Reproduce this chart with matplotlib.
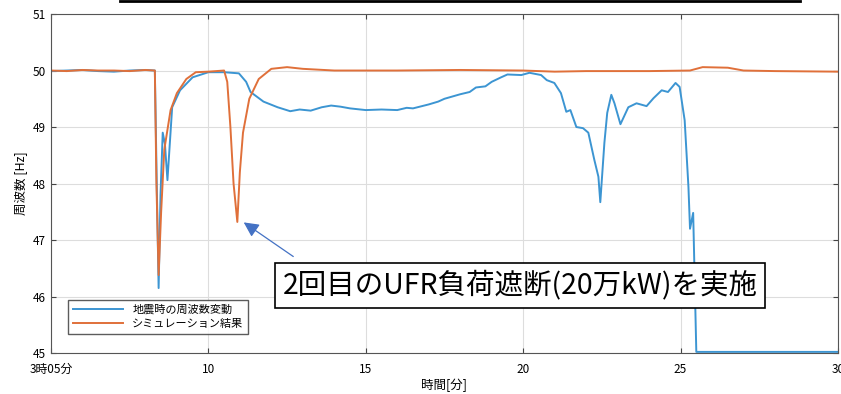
import matplotlib.pyplot as plt
from matplotlib.lines import Line2D

plt.rcParams['font.family'] = ['Noto Sans CJK JP', 'DejaVu Sans']

# measured frequency during the earthquake (minutes, Hz)
quake_t = [5.0, 5.5, 6.0, 6.5, 7.0, 7.5, 8.0, 8.3, 8.36, 8.42, 8.48, 8.55, 8.62,
           8.7, 8.85, 9.1, 9.5, 10.0, 10.5, 10.97, 11.2, 11.34, 11.75, 12.2, 12.6,
           12.9, 13.25, 13.6, 13.9, 14.2, 14.5, 15.0, 15.5, 16.0, 16.3, 16.5, 17.0,
           17.3, 17.5, 18.0, 18.3, 18.5, 18.8, 19.0, 19.3, 19.5, 19.94, 20.2, 20.57,
           20.75, 20.99, 21.2, 21.37, 21.5, 21.69, 21.9, 22.07, 22.26, 22.39, 22.45,
           22.58, 22.67, 22.8, 22.9, 23.09, 23.34, 23.6, 23.92, 24.14, 24.4, 24.6,
           24.84, 24.97, 25.13, 25.25, 25.3, 25.4, 25.5, 25.55, 26.0, 27.0, 28.0,
           29.0, 30.0]
quake_f = [49.99, 50.0, 50.01, 49.99, 49.98, 50.0, 50.01, 50.0, 48.0, 46.15, 47.8, 48.9, 48.7,
           48.06, 49.35, 49.65, 49.88, 49.97, 49.97, 49.95, 49.8, 49.62, 49.45, 49.35, 49.28,
           49.31, 49.29, 49.35, 49.38, 49.36, 49.33, 49.3, 49.31, 49.3, 49.34, 49.33, 49.4,
           49.45, 49.5, 49.58, 49.62, 49.7, 49.72, 49.8, 49.88, 49.93, 49.92, 49.96, 49.92,
           49.83, 49.78, 49.6, 49.27, 49.3, 49.0, 48.98, 48.9, 48.42, 48.12, 47.67,
           48.72, 49.25, 49.57, 49.42, 49.05, 49.35, 49.42, 49.37, 49.51, 49.65, 49.62,
           49.78, 49.71, 49.12, 47.94, 47.2, 47.48, 45.02, 45.02, 45.02, 45.02, 45.02,
           45.02, 45.02]

# simulation result
sim_t = [5.0, 5.5, 6.0, 6.5, 7.0, 7.5, 8.0, 8.3, 8.35, 8.42, 8.5, 8.6, 8.8, 9.0,
         9.3, 9.6, 10.0, 10.5, 10.6, 10.7, 10.8, 10.92, 11.0, 11.1, 11.3, 11.6,
         12.0, 12.5, 13.0, 14.0, 16.0, 18.0, 20.0, 21.0, 22.0, 24.0, 25.3,
         25.7, 26.5, 27.0, 28.0, 30.0]
sim_f = [50.0, 49.99, 50.01, 50.0, 50.0, 49.99, 50.01, 50.0, 48.0, 46.38, 47.5, 48.6, 49.3, 49.6,
         49.85, 49.97, 49.98, 50.0, 49.8, 49.0, 48.0, 47.32, 48.2, 48.9, 49.5, 49.85,
         50.03, 50.06, 50.03, 50.0, 50.0, 50.01, 50.0, 49.98, 49.99, 49.99, 50.0,
         50.06, 50.05, 50.0, 49.99, 49.98]

xticks = [5, 10, 15, 20, 25, 30]
xticklabels = ['3時05分', '10', '15', '20', '25', '30']
yticks = [45, 46, 47, 48, 49, 50, 51]

fig = plt.figure(figsize=(8.41, 3.94), dpi=100)
ax = fig.add_axes([0.0606, 0.104, 0.9358, 0.8604])

ax.plot(quake_t, quake_f, color='#3c95d2', lw=1.4, label='地震時の周波数変動')
ax.plot(sim_t, sim_f, color='#e0703a', lw=1.4, label='シミュレーション結果')

ax.set_xlim(5, 30)
ax.set_ylim(45, 51)
ax.set_xticks(xticks)
ax.set_xticklabels(xticklabels)
ax.set_yticks(yticks)
ax.tick_params(direction='in', top=True, right=True, labelsize=8.5, color='#444444')
ax.tick_params(axis='x', pad=7)
ax.grid(color='#dddddd', lw=0.8)
for s in ax.spines.values():
    s.set_color('#555555')
ax.set_xlabel('時間[分]', fontsize=9, labelpad=2)
ax.set_ylabel('周波数 [Hz]', fontsize=9, labelpad=4)

leg = ax.legend(loc='lower left', bbox_to_anchor=(0.015, 0.04), fontsize=8,
                fancybox=False, edgecolor='#333333', handlelength=4.5,
                borderpad=0.45, labelspacing=0.35)
leg.get_frame().set_linewidth(1.0)

ax.annotate('', xy=(11.05, 47.34), xytext=(12.77, 46.68),
            arrowprops=dict(arrowstyle='-|>,head_length=0.9,head_width=0.45',
                            color='#4472c4', lw=0.9))
ax.text(19.9, 46.19, '2回目のUFR負荷遮断(20万kW)を実施', fontsize=20.5,
        ha='center', va='center',
        bbox=dict(boxstyle='square,pad=0.27', fc='white', ec='black', lw=1.2))

fig.add_artist(Line2D([120 / 841, 800 / 841], [0.998, 0.998], color='black', lw=2))

fig.savefig('out.png')
